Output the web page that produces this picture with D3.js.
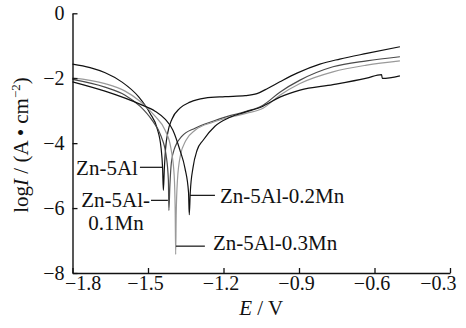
<!DOCTYPE html>
<html>
<head>
<meta charset="utf-8">
<script src="https://cdn.jsdelivr.net/npm/d3@7/dist/d3.min.js"></script>
<style>
  html, body { margin: 0; padding: 0; background: #fff; }
  svg { display: block; }
</style>
</head>
<body>
<svg id="chart" width="466" height="328"></svg>
<script>
// Polarization curves: potential E (V) vs log current density

const seriesNames = ["Zn-5Al", "Zn-5Al-0.1Mn", "Zn-5Al-0.3Mn", "Zn-5Al-0.2Mn"];
const seriesColors = ["#111", "#4a4a4a", "#9a9a9a", "#111"];

const potentialZn5Al = [-1.800, -1.730, -1.670, -1.603, -1.537, -1.492, -1.464, -1.448, -1.442, -1.439,
  -1.435, -1.430, -1.421, -1.405, -1.373, -1.333, -1.274, -1.194, -1.114, -1.067, -1.023, -0.976, -0.908, -0.817, -0.738, -0.631, -0.499];
const logIZn5Al = [-1.565, -1.673, -1.833, -2.120, -2.574, -3.077, -3.540, -4.157, -4.775, -5.454,
  -4.775, -4.157, -3.663, -3.262, -2.922, -2.737, -2.614, -2.568, -2.537, -2.475, -2.306, -2.111, -1.843, -1.565, -1.410, -1.235, -1.031];

const potentialMn01 = [-1.800, -1.671, -1.591, -1.532, -1.484, -1.448, -1.428, -1.419, -1.417,
  -1.413, -1.407, -1.393, -1.365, -1.313, -1.242, -1.174, -1.107, -1.043, -0.976, -0.896, -0.765, -0.631, -0.499];
const logIMn01 = [-2.037, -2.275, -2.522, -2.861, -3.293, -3.787, -4.373, -5.145, -6.071,
  -5.299, -4.589, -4.126, -3.787, -3.540, -3.324, -3.154, -3.015, -2.830, -2.429, -2.059, -1.648, -1.463, -1.339];

const potentialMn03 = [-1.800, -1.671, -1.591, -1.532, -1.472, -1.432, -1.409, -1.396, -1.392, -1.390,
  -1.388, -1.383, -1.371, -1.349, -1.313, -1.242, -1.174, -1.107, -1.043, -0.976, -0.896, -0.765, -0.631, -0.499];
const logIMn03 = [-1.988, -2.167, -2.398, -2.707, -3.170, -3.602, -4.157, -4.991, -6.071, -7.429,
  -6.225, -5.145, -4.373, -3.910, -3.602, -3.355, -3.200, -3.077, -2.923, -2.522, -2.160, -1.802, -1.596, -1.463];

const potentialMn02 = [-1.800, -1.671, -1.591, -1.532, -1.472, -1.432, -1.401, -1.373, -1.353, -1.339, -1.336,
  -1.332, -1.321, -1.305, -1.281, -1.234, -1.174, -1.114, -1.043, -0.976, -0.896, -0.765, -0.631, -0.572, -0.569, -0.499];
const logIMn02 = [-2.111, -2.398, -2.614, -2.799, -3.015, -3.262, -3.602, -4.219, -4.775, -5.515, -6.204,
  -5.515, -4.744, -4.219, -3.910, -3.478, -3.200, -3.046, -2.861, -2.583, -2.367, -2.197, -1.997, -1.889, -2.006, -1.926];

const xTicks = [-1.8, -1.5, -1.2, -0.9, -0.6, -0.3];
const yTicks = [0, -2, -4, -6, -8];

// Curve labels: text anchor point and leader line, in data units
const labelLines = [
  { text: "Zn-5Al", tx: -1.540, ty: -4.991, anchor: "end", x1: -1.532, x2: -1.444, y: -4.744 },
  { text: "Zn-5Al-", tx: -1.492, ty: -5.978, anchor: "end", x1: -1.488, x2: -1.421, y: -5.762 },
  { text: "0.1Mn", tx: -1.627, ty: -6.688, anchor: "middle" },
  { text: "Zn-5Al-0.2Mn", tx: -1.214, ty: -5.855, anchor: "start", x1: -1.333, x2: -1.234, y: -5.608 },
  { text: "Zn-5Al-0.3Mn", tx: -1.242, ty: -7.305, anchor: "start", x1: -1.389, x2: -1.274, y: -7.173 }
];

const seriesData = [
  d3.zip(potentialZn5Al, logIZn5Al),
  d3.zip(potentialMn01, logIMn01),
  d3.zip(potentialMn03, logIMn03),
  d3.zip(potentialMn02, logIMn02)
];

const SERIF = "Liberation Serif, Times New Roman, serif";

const svg = d3.select("#chart").attr("font-family", SERIF);
const x = d3.scaleLinear().domain([-1.8, -0.3]).range([72.5, 450]);
const y = d3.scaleLinear().domain([-8, 0]).range([273, 13.3]);

const fmt = d => d === 0 ? "0" : d3.format(".1f")(d).replace("-", "\u2212");
const fmtY = d => d === 0 ? "0" : String(d).replace("-", "\u2212");

// curves
const line = d3.line().x(d => x(d[0])).y(d => y(d[1])).curve(d3.curveMonotoneX);
svg.append("g").selectAll("path")
  .data(seriesData)
  .join("path")
  .attr("d", line)
  .attr("fill", "none")
  .attr("stroke", (d, i) => seriesColors[i])
  .attr("stroke-width", 1.2);

// axes
const xAxis = svg.append("g")
  .attr("transform", `translate(0,${y(-8)})`)
  .call(d3.axisBottom(x).tickValues(xTicks).tickSize(-5).tickSizeOuter(0).tickPadding(3).tickFormat(fmt));
const yAxis = svg.append("g")
  .attr("transform", `translate(${x(-1.8)},0)`)
  .call(d3.axisLeft(y).tickValues(yTicks).tickSize(-5).tickSizeOuter(0).tickPadding(8).tickFormat(fmtY));

[xAxis, yAxis].forEach(g => {
  g.attr("font-family", SERIF).attr("font-size", 20);
  g.select(".domain").attr("stroke", "#111").attr("stroke-width", 1.4);
  g.selectAll(".tick line").attr("stroke", "#111").attr("stroke-width", 1.3);
  g.selectAll(".tick text").attr("fill", "#111").attr("font-family", SERIF);
});
// end labels are pulled inward, the rest sit slightly left of their ticks
xAxis.selectAll(".tick text")
  .attr("dx", d => d === -1.8 ? "-0.4em" : d === -0.3 ? "0.3em" : "-0.15em")
  .attr("text-anchor", d => d === -1.8 ? "start" : d === -0.3 ? "end" : "middle");

// axis titles
const xt = svg.append("text")
  .attr("x", (x(-1.8) + x(-0.3)) / 2)
  .attr("y", 315)
  .attr("text-anchor", "middle")
  .attr("font-family", SERIF)
  .attr("font-size", 21)
  .attr("fill", "#111");
xt.append("tspan").attr("font-style", "italic").text("E");
xt.append("tspan").text(" / V");

const yt = svg.append("text")
  .attr("transform", "translate(27.5,145) rotate(-90)")
  .attr("text-anchor", "middle")
  .attr("font-family", SERIF)
  .attr("font-size", 21)
  .attr("fill", "#111");
yt.append("tspan").text("log");
yt.append("tspan").attr("font-style", "italic").text("I");
yt.append("tspan").text(" / (A \u2022 cm");
yt.append("tspan").attr("font-size", 13).attr("dy", -8).text("\u22122");
yt.append("tspan").attr("dy", 8).text(")");

// curve labels
const lab = svg.append("g");
labelLines.forEach(l => {
  lab.append("text")
    .attr("x", x(l.tx)).attr("y", y(l.ty))
    .attr("text-anchor", l.anchor)
    .attr("font-family", SERIF)
    .attr("font-size", 21)
    .attr("fill", "#111")
    .text(l.text);
  if (l.x1 !== undefined) {
    lab.append("line")
      .attr("x1", x(l.x1)).attr("x2", x(l.x2))
      .attr("y1", y(l.y)).attr("y2", y(l.y))
      .attr("stroke", "#111").attr("stroke-width", 1.2);
  }
});
</script>
</body>
</html>
